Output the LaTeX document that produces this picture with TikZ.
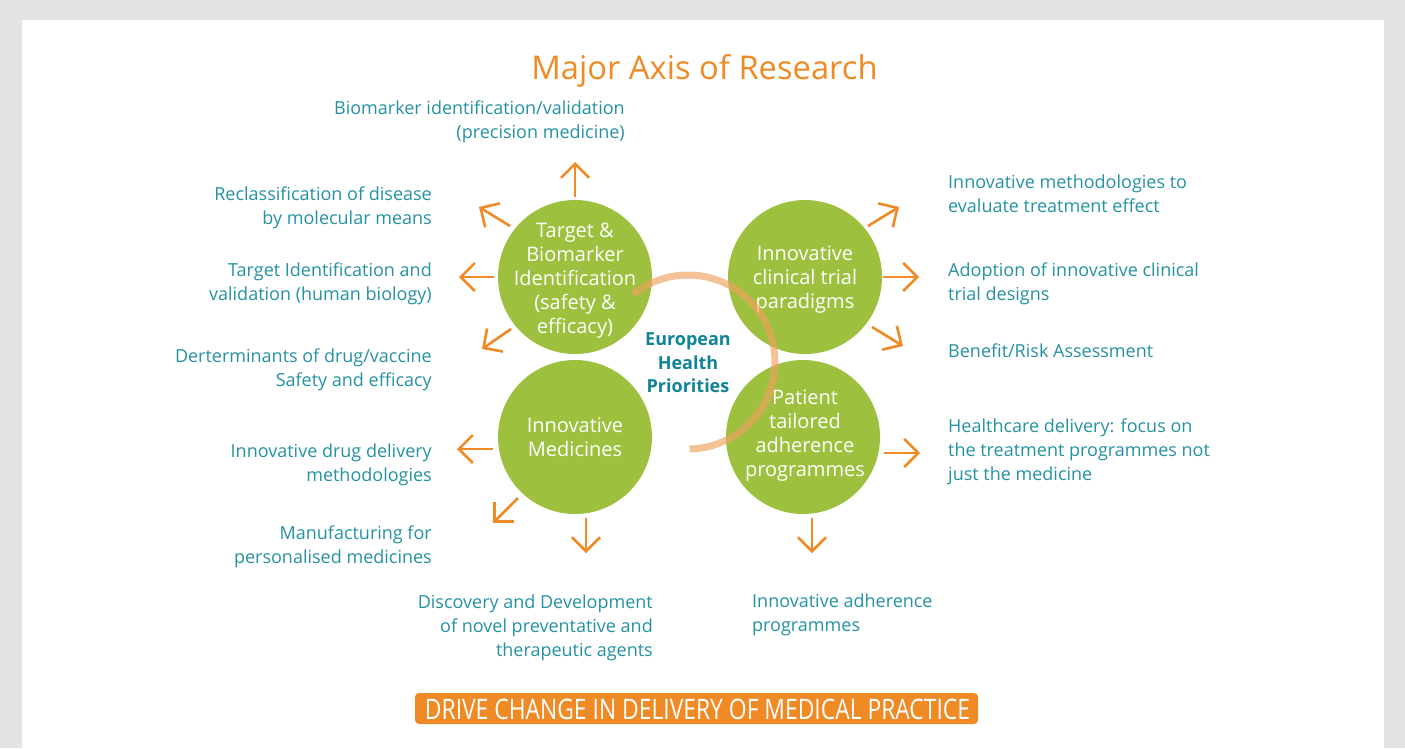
\documentclass[tikz,border=0pt]{standalone}
\usepackage{fontspec}
\setmainfont{Open Sans}
\usepackage{graphicx}
\usetikzlibrary{arrows.meta}
\definecolor{bggrey}{HTML}{E2E3E2}
\definecolor{leafgreen}{HTML}{9DC13E}
\definecolor{axorange}{HTML}{EF8A25}
\definecolor{labteal}{HTML}{2592A4}
\definecolor{deepteal}{HTML}{0F8496}
\definecolor{arcorange}{HTML}{F0A060}
\begin{document}
\begin{tikzpicture}[x=1pt,y=-1pt,
  lbl/.style={inner sep=0pt, text=labteal, font=\fontsize{18}{24}\selectfont},
  bub/.style={circle, fill=leafgreen, minimum size=154pt, inner sep=0pt},
  bubtxt/.style={inner sep=0pt, text=white, font=\fontsize{20}{24}\selectfont},
  arr/.style={draw=axorange, line width=2.6pt, -{Straight Barb[length=14pt,width=28pt]}},
]
\useasboundingbox (0,0) rectangle (1405,748);
\fill[bggrey] (0,0) rectangle (1405,748);
\fill[white] (22,20) rectangle (1384,748);

% title
\node[inner sep=0pt, anchor=base, text=axorange, font=\fontsize{32.7}{36}\selectfont] (title) at (704.5,79) {Major Axis of Research};

% circles
\node[bub] (c1) at (575,277) {};
\node[bub] (c2) at (805,277) {};
\node[bub] (c3) at (575,437) {};
\node[bub] (c4) at (803,437) {};

\node[bubtxt] (t1) at (575,281) {\begin{tabular}{@{}c@{}}Target \&\\Biomarker\\Identification\\(safety \&\\efficacy)\end{tabular}};
\node[bubtxt] (t2) at (805,280) {\begin{tabular}{@{}c@{}}Innovative\\clinical trial\\paradigms\end{tabular}};
\node[bubtxt] (t3) at (575,440) {\begin{tabular}{@{}c@{}}Innovative\\Medicines\end{tabular}};
\node[bubtxt] (t4) at (805,436) {\begin{tabular}{@{}c@{}}Patient\\tailored\\adherence\\programmes\end{tabular}};

% central arc
\coordinate (hub) at (688,362);
\draw[arcorange, opacity=0.65, line width=7pt] ([shift={(231:87)}]hub) arc[start angle=231, end angle=449, radius=87];
\node[inner sep=0pt, text=deepteal, font=\fontsize{18}{23.5}\selectfont\bfseries] (ehp) at (688,364.5) {\begin{tabular}{@{}c@{}}European\\Health\\Priorities\end{tabular}};

% arrow anchors
\coordinate (a1s) at (575,197); \coordinate (a1e) at (575,162);
\coordinate (a2s) at (510,226); \coordinate (a2e) at (479,207);
\coordinate (a3s) at (494,277); \coordinate (a3e) at (459,277);
\coordinate (a4s) at (511,329); \coordinate (a4e) at (482,349);
\coordinate (b1s) at (493,449); \coordinate (b1e) at (457,449);
\coordinate (b2s) at (518,498); \coordinate (b2e) at (493,523);
\coordinate (b3s) at (586,518); \coordinate (b3e) at (586,553);
\coordinate (c1s) at (868,226); \coordinate (c1e) at (899,207);
\coordinate (c2s) at (883,277); \coordinate (c2e) at (919,277);
\coordinate (c3s) at (872,327); \coordinate (c3e) at (903,346);
\coordinate (d1s) at (884,453); \coordinate (d1e) at (920,453);
\coordinate (d2s) at (812,518); \coordinate (d2e) at (812,553);
\foreach \p in {a1,a2,a3,a4,b1,b2,b3,c1,c2,c3,d1,d2}
  \draw[arr] (\p s) -- (\p e);

% left labels
\node[lbl, anchor=base east] (l0) at (625,114.5) {\begin{tabular}[t]{@{}r@{}}Biomarker identification/validation\\(precision medicine)\end{tabular}};
\node[lbl, anchor=base east] (l1) at (432,200.5) {\begin{tabular}[t]{@{}r@{}}Reclassification of disease\\by molecular means\end{tabular}};
\node[lbl, anchor=base east] (l2) at (432,276.5) {\begin{tabular}[t]{@{}r@{}}Target Identification and\\validation (human biology)\end{tabular}};
\node[lbl, anchor=base east] (l3) at (432,362.5) {\begin{tabular}[t]{@{}r@{}}Derterminants of drug/vaccine\\Safety and efficacy\end{tabular}};
\node[lbl, anchor=base east] (l4) at (432,457.5) {\begin{tabular}[t]{@{}r@{}}Innovative drug delivery\\methodologies\end{tabular}};
\node[lbl, anchor=base east] (l5) at (432,539.5) {\begin{tabular}[t]{@{}r@{}}Manufacturing for\\personalised medicines\end{tabular}};
\node[lbl, anchor=base east] (l6) at (653,608.5) {\begin{tabular}[t]{@{}r@{}}Discovery and Development\\of novel preventative and\\therapeutic agents\end{tabular}};

% right labels
\node[lbl, anchor=base west] (r1) at (948,188.5) {\begin{tabular}[t]{@{}l@{}}Innovative methodologies to\\evaluate treatment effect\end{tabular}};
\node[lbl, anchor=base west] (r2) at (948,276.5) {\begin{tabular}[t]{@{}l@{}}Adoption of innovative clinical\\trial designs\end{tabular}};
\node[lbl, anchor=base west] (r3) at (948,357.5) {Benefit/Risk Assessment};
\node[lbl, anchor=base west] (r4) at (948,432.5) {\begin{tabular}[t]{@{}l@{}}Healthcare delivery: focus on\\the treatment programmes not\\just the medicine\end{tabular}};
\node[lbl, anchor=base west] (r5) at (752,607.5) {\begin{tabular}[t]{@{}l@{}}Innovative adherence\\programmes\end{tabular}};

% banner
\node[fill=axorange, rounded corners=4pt, minimum width=563pt, minimum height=31pt, inner sep=0pt] (banner) at (696.5,708.5) {};
\node[inner sep=0pt, text=white, anchor=base, font=\fontsize{28}{30}\selectfont] (bannertxt) at (697.5,719) {\resizebox{545pt}{20.5pt}{DRIVE CHANGE IN DELIVERY OF MEDICAL PRACTICE}};
\end{tikzpicture}
\end{document}
